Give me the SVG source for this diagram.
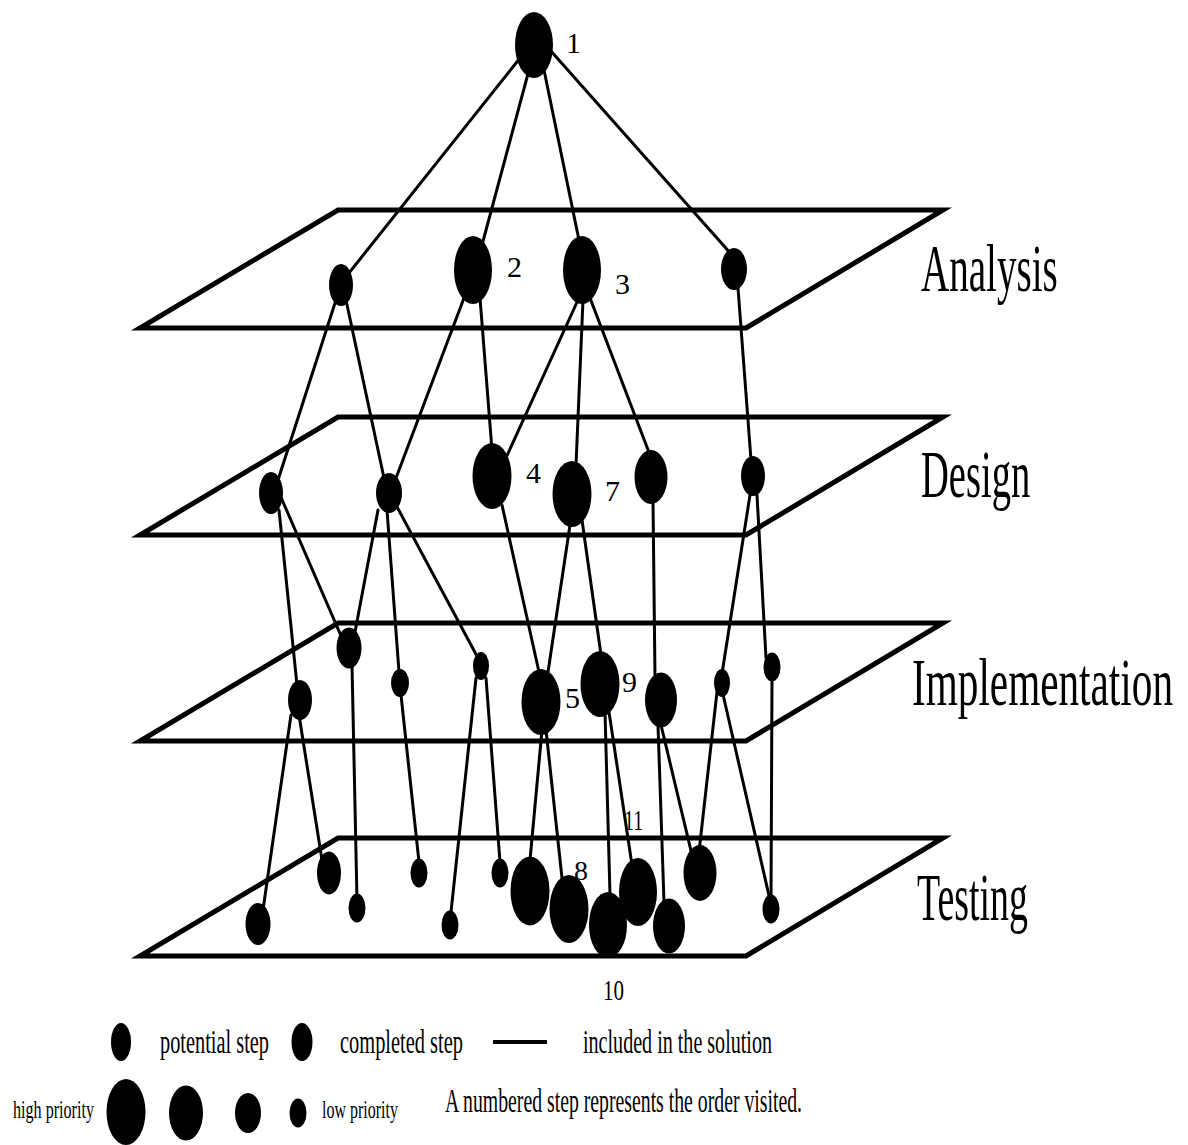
<svg xmlns="http://www.w3.org/2000/svg" width="1188" height="1145" viewBox="0 0 1188 1145">
<style>
.plane{fill:none;stroke:#000;stroke-width:5;stroke-linejoin:miter}
.edge line{stroke:#000;stroke-width:3;stroke-linecap:round}
ellipse{fill:#000}
text{font-family:"Liberation Serif","Times New Roman",serif;fill:#000}
.layer{font-size:68px}
.num{font-size:30px}
.leg{font-size:34px}
.legs{font-size:26px}
</style>
<rect width="1188" height="1145" fill="#fff"/>
<g id="planes">
<g id="plane-analysis"><polygon class="plane" points="338,210 943,210 746,328 140,328"/><text class="layer" transform="translate(921,291) scale(0.6,1)" x="0" y="0" textLength="228" lengthAdjust="spacingAndGlyphs">Analysis</text></g>
<g id="plane-design"><polygon class="plane" points="338,417 943,417 746,535 140,535"/><text class="layer" transform="translate(921,497) scale(0.6,1)" x="0" y="0" textLength="182" lengthAdjust="spacingAndGlyphs">Design</text></g>
<g id="plane-implementation"><polygon class="plane" points="338,623 943,623 746,741 140,741"/><text class="layer" transform="translate(912,705) scale(0.6,1)" x="0" y="0" textLength="435" lengthAdjust="spacingAndGlyphs">Implementation</text></g>
<g id="plane-testing"><polygon class="plane" points="338,838 943,838 746,956 140,956"/><text class="layer" transform="translate(917,920) scale(0.6,1)" x="0" y="0" textLength="185" lengthAdjust="spacingAndGlyphs">Testing</text></g>
</g>
<g id="connectors" class="edge">
<line x1="520" y1="58" x2="345" y2="278"/>
<line x1="529" y1="70" x2="482" y2="245"/>
<line x1="544" y1="70" x2="580" y2="245"/>
<line x1="550" y1="50" x2="732" y2="255"/>
<line x1="336" y1="300" x2="278" y2="480"/>
<line x1="346" y1="300" x2="384" y2="478"/>
<line x1="464" y1="298" x2="396" y2="478"/>
<line x1="480" y1="298" x2="492" y2="450"/>
<line x1="578" y1="300" x2="505" y2="460"/>
<line x1="583" y1="300" x2="576" y2="465"/>
<line x1="590" y1="298" x2="650" y2="455"/>
<line x1="738" y1="288" x2="751" y2="460"/>
<line x1="279" y1="510" x2="297" y2="685"/>
<line x1="280" y1="495" x2="345" y2="645"/>
<line x1="378" y1="510" x2="352" y2="648"/>
<line x1="387" y1="510" x2="399" y2="672"/>
<line x1="396" y1="505" x2="478" y2="658"/>
<line x1="502" y1="505" x2="539" y2="672"/>
<line x1="570" y1="525" x2="548" y2="672"/>
<line x1="582" y1="520" x2="601" y2="655"/>
<line x1="653" y1="500" x2="655" y2="678"/>
<line x1="750" y1="495" x2="721" y2="680"/>
<line x1="757" y1="495" x2="766" y2="658"/>
<line x1="352" y1="665" x2="357" y2="900"/>
<line x1="291" y1="715" x2="263" y2="910"/>
<line x1="299" y1="715" x2="322" y2="860"/>
<line x1="401" y1="695" x2="419" y2="862"/>
<line x1="476" y1="678" x2="451" y2="912"/>
<line x1="486" y1="678" x2="500" y2="862"/>
<line x1="542" y1="730" x2="530" y2="860"/>
<line x1="546" y1="730" x2="562" y2="878"/>
<line x1="605" y1="712" x2="610" y2="895"/>
<line x1="609" y1="712" x2="632" y2="865"/>
<line x1="658" y1="725" x2="664" y2="902"/>
<line x1="661" y1="725" x2="692" y2="855"/>
<line x1="718" y1="683" x2="699" y2="852"/>
<line x1="722" y1="690" x2="770" y2="900"/>
<line x1="772" y1="680" x2="771" y2="900"/>
</g>
<g id="node-1"><ellipse cx="534" cy="45" rx="19" ry="33"/><text class="num" x="566" y="53">1</text></g>
<g id="a1"><ellipse cx="341" cy="285" rx="12" ry="21"/></g>
<g id="node-2"><ellipse cx="473" cy="270" rx="19" ry="34"/><text class="num" x="507" y="277">2</text></g>
<g id="node-3"><ellipse cx="582" cy="270" rx="19" ry="34"/><text class="num" x="615" y="294">3</text></g>
<g id="a4"><ellipse cx="734" cy="269" rx="13" ry="21"/></g>
<g id="d1"><ellipse cx="271" cy="493" rx="12" ry="21"/></g>
<g id="d2"><ellipse cx="389" cy="493" rx="13" ry="20"/></g>
<g id="node-4"><ellipse cx="492" cy="476" rx="19.5" ry="33"/><text class="num" x="526" y="483">4</text></g>
<g id="node-7"><ellipse cx="572" cy="494" rx="19.5" ry="33"/><text class="num" x="605" y="501">7</text></g>
<g id="d5"><ellipse cx="651" cy="477" rx="16.5" ry="27"/></g>
<g id="d6"><ellipse cx="753" cy="476" rx="12" ry="20"/></g>
<g id="i1"><ellipse cx="349" cy="648" rx="12.5" ry="20.5"/></g>
<g id="i2"><ellipse cx="300" cy="700" rx="12" ry="20"/></g>
<g id="i3"><ellipse cx="400" cy="683" rx="9" ry="14"/></g>
<g id="i4"><ellipse cx="481" cy="666" rx="8" ry="14"/></g>
<g id="node-5"><ellipse cx="541" cy="702" rx="19.5" ry="33"/><text class="num" x="565" y="708">5</text></g>
<g id="node-9"><ellipse cx="600" cy="684" rx="19.5" ry="33"/><text class="num" x="622" y="692">9</text></g>
<g id="i7"><ellipse cx="661" cy="700" rx="16" ry="27.5"/></g>
<g id="i8"><ellipse cx="722" cy="683" rx="8" ry="14"/></g>
<g id="i9"><ellipse cx="772" cy="667" rx="8.5" ry="14.5"/></g>
<g id="t1"><ellipse cx="258" cy="924" rx="12.5" ry="21"/></g>
<g id="t2"><ellipse cx="329" cy="873" rx="12" ry="21.5"/></g>
<g id="t3"><ellipse cx="357" cy="908" rx="8.5" ry="14.5"/></g>
<g id="t4"><ellipse cx="419" cy="873" rx="8.5" ry="14.5"/></g>
<g id="t5"><ellipse cx="450" cy="925" rx="8.5" ry="14.5"/></g>
<g id="t6"><ellipse cx="500" cy="873" rx="8.5" ry="14.5"/></g>
<g id="t7"><ellipse cx="530" cy="891" rx="19.5" ry="34.5"/></g>
<g id="node-8"><ellipse cx="569" cy="909" rx="19.5" ry="34"/><text class="num" x="574" y="880" style="font-size:28px">8</text></g>
<g id="node-10"><ellipse cx="608" cy="925" rx="19" ry="33"/><text class="num" x="603" y="1000" textLength="21" lengthAdjust="spacingAndGlyphs">10</text></g>
<g id="node-11"><ellipse cx="638" cy="892" rx="19" ry="34"/><text class="num" x="624" y="830" textLength="19" lengthAdjust="spacingAndGlyphs">11</text></g>
<g id="t11"><ellipse cx="669" cy="926" rx="16" ry="27.5"/></g>
<g id="t12"><ellipse cx="700" cy="873" rx="16.5" ry="28"/></g>
<g id="t13"><ellipse cx="771" cy="909" rx="8.5" ry="14.5"/></g>
<g id="legend">
<ellipse cx="121" cy="1042" rx="10" ry="19"/>
<text class="leg" x="160" y="1053" textLength="109" lengthAdjust="spacingAndGlyphs">potential step</text>
<ellipse cx="302" cy="1042" rx="10.5" ry="19"/>
<text class="leg" x="340" y="1053" textLength="123" lengthAdjust="spacingAndGlyphs">completed step</text>
<line x1="493" y1="1042" x2="547" y2="1042" stroke="#000" stroke-width="4"/>
<text class="leg" x="583" y="1053" textLength="189" lengthAdjust="spacingAndGlyphs">included in the solution</text>
<text class="legs" x="13" y="1118" textLength="81" lengthAdjust="spacingAndGlyphs">high priority</text>
<ellipse cx="126" cy="1112" rx="19.5" ry="33"/>
<ellipse cx="186" cy="1113" rx="17" ry="27.5"/>
<ellipse cx="248" cy="1113" rx="13" ry="20"/>
<ellipse cx="298" cy="1113" rx="8.5" ry="14.5"/>
<text class="legs" x="322" y="1118" textLength="76" lengthAdjust="spacingAndGlyphs">low priority</text>
<text class="leg" x="445" y="1112" textLength="357" lengthAdjust="spacingAndGlyphs">A numbered step represents the order visited.</text>
</g>
</svg>
